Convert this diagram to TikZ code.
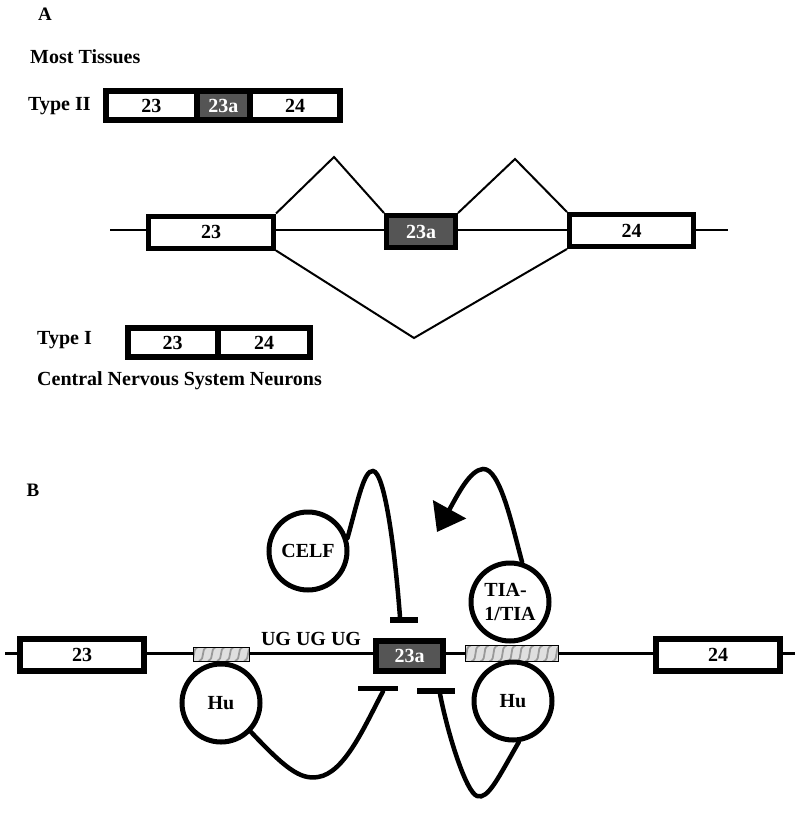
\documentclass[tikz,border=0pt]{standalone}
\usepackage{fontspec}
\setmainfont{Liberation Serif}
\usetikzlibrary{arrows.meta}
\definecolor{altgray}{HTML}{555555}

\begin{document}
\begin{tikzpicture}[x=1bp,y=-1bp,
		font=\fontsize{20bp}{24bp}\selectfont\bfseries,
		exon/.style={draw,line width=5bp,fill=white,inner sep=0pt},
		altexon/.style={exon,fill=altgray,text=white},
		site/.style={draw,line width=0.8bp,fill=gray!25,inner sep=0pt,
			path picture={\foreach \i in {-6,...,6}
				\draw[gray!80,line width=1.8bp] ([xshift=\i*9bp-4bp]path picture bounding box.south)
					.. controls +(7bp,3bp) and +(-7bp,-3bp) .. ([xshift=\i*9bp+4bp]path picture bounding box.north);}},
		factor/.style={circle,draw,line width=5bp,fill=white,minimum size=78bp,inner sep=0pt},
		blocker/.style={fill=black,inner sep=0pt,minimum height=5.5bp},
		lbl/.style={anchor=west,inner sep=0pt},
		panel/.style={inner sep=0pt,font=\fontsize{19bp}{21bp}\selectfont\bfseries},
		splice/.style={line width=2bp},
		intron/.style={line width=2.5bp},
		reg/.style={line width=4.5bp,line cap=round}
	]
	\useasboundingbox (0,0) rectangle (800,814);

	% panel A
	\node[panel] (panelA) at (45,14) {A};
	\node[lbl] (most) at (30,57) {Most Tissues};
	\node[lbl] (typeII) at (28,106) {Type II};

	\node[exon,line width=6bp,minimum width=91.5bp,minimum height=29bp] (tIIa) at (151.25,105.5) {23};
	\node[altexon,line width=6bp,minimum width=52.5bp,minimum height=29bp] (tIIb) at (223.25,105.5) {23a};
	\node[exon,line width=6bp,minimum width=90bp,minimum height=29bp] (tIIc) at (295,105.5) {24};

	\coordinate (lstart) at (110,230);
	\coordinate (lend) at (728,230);
	\draw[intron] (lstart) -- (lend);

	\node[exon,minimum width=125bp,minimum height=32bp] (ex23) at (211,232) {23};
	\node[altexon,minimum width=69bp,minimum height=32bp] (ex23a) at (421,231.5) {23a};
	\node[exon,minimum width=124bp,minimum height=32bp] (ex24) at (631.5,230.5) {24};

	\coordinate (peakL) at (334,157);
	\coordinate (peakR) at (515,159);
	\coordinate (skip) at (414,338);
	\draw[splice] (ex23.north east) -- (peakL) -- (ex23a.north west);
	\draw[splice] (ex23a.north east) -- (peakR) -- (ex24.north west);
	\draw[splice] (ex23.south east) -- (skip) -- (ex24.south west);

	\node[lbl] (typeI) at (37,340) {Type I};
	\node[exon,line width=6bp,minimum width=90bp,minimum height=29bp] (tIa) at (172.5,342.5) {23};
	\node[exon,line width=6bp,minimum width=92bp,minimum height=29bp] (tIb) at (264,342.5) {24};
	\node[lbl] (cns) at (37,381) {Central Nervous System Neurons};

	% panel B
	\node[panel] (panelB) at (33,490) {B};

	\coordinate (bstart) at (5,653);
	\coordinate (bend) at (795,653);
	\draw[intron,line width=3bp] (bstart) -- (bend);

	\node[exon,line width=6bp,minimum width=124bp,minimum height=32bp] (b23) at (82,655) {23};
	\node[exon,line width=6bp,minimum width=124bp,minimum height=32bp] (b24) at (718,655) {24};
	\node[altexon,line width=6bp,minimum width=67bp,minimum height=30bp] (b23a) at (409.5,656) {23a};
	\node[site,minimum width=56bp,minimum height=14bp] (siteL) at (221,654) {};
	\node[site,minimum width=93bp,minimum height=16bp] (siteR) at (511.5,653.5) {};
	\node[inner sep=0pt] (ug) at (311,639) {UG UG UG};

	\node[factor] (celf) at (308,551) {CELF};
	\node[factor,align=left] (tia) at (510,602) {TIA-\\1/TIA};
	\node[factor] (huL) at (221,703) {Hu};
	\node[factor] (huR) at (513,701) {Hu};

	\node[blocker,minimum width=28bp] (barC) at (404,620) {};
	\node[blocker,minimum width=40bp] (barL) at (378,688.5) {};
	\node[blocker,minimum width=38bp] (barR) at (436,691) {};
	\coordinate (tiatip) at (437,532);

	\draw[reg] (celf.18) .. controls (358,500) and (364,470) .. (373,471)
		.. controls (384,472) and (394,540) .. ([xshift=-4bp]barC.north);
	\draw[reg,-{Triangle[length=26bp,width=37bp]}] (tia.73) .. controls (512,525) and (500,468) .. (483,469)
		.. controls (470,470) and (458,494) .. (tiatip);
	\draw[reg] (huL.-44) .. controls (285,768) and (300,780) .. (318,777)
		.. controls (345,773) and (365,725) .. ([xshift=5bp]barL.south);
	\draw[reg] (huR.-82) .. controls (498,778) and (488,800) .. (477,796)
		.. controls (466,792) and (448,735) .. ([xshift=4bp]barR.south);
\end{tikzpicture}
\end{document}
